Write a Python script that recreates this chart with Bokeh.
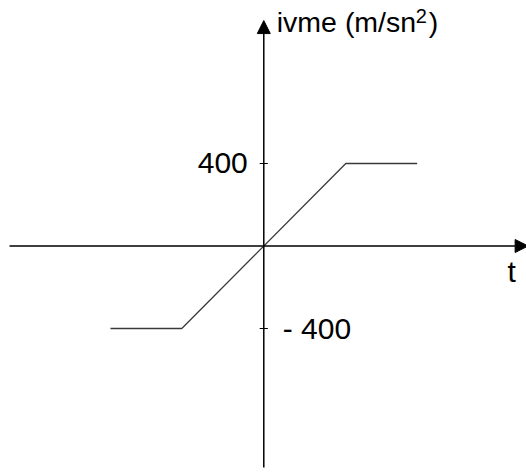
from bokeh.plotting import figure
from bokeh.models import Range1d, Arrow, NormalHead
from bokeh.core.properties import value
from bokeh.embed import file_html
from bokeh.resources import INLINE

# data (t in units where the ramp ends at t = 1; acceleration in m/sn^2)
t_values = [-1.87, -1.0, 1.0, 1.87]
accel_values = [-400, -400, 400, 400]
tick_values = [400, -400]
tick_labels = ["400", "- 400"]
y_title_main = "ivme (m/sn"
y_title_sup = "2"
y_title_end = ")"
x_title = "t"

X_MIN, X_MAX = -3.211, 3.204
Y_MIN, Y_MAX = -1103.0, 1190.3
X_AXIS_START = -3.101
Y_AXIS_START = -1074.0
Y_AXIS_TIP = 1093.0

p = figure(width=526, height=473, output_backend="svg", toolbar_location=None,
           x_range=Range1d(X_MIN, X_MAX), y_range=Range1d(Y_MIN, Y_MAX),
           min_border=0, outline_line_color=None)
p.axis.visible = False
p.grid.visible = False
p.background_fill_color = "white"
p.border_fill_color = "white"

FONT = value("Liberation Sans")

# horizontal axis with arrow
p.add_layout(Arrow(x_start=X_AXIS_START, y_start=0, x_end=X_MAX + 0.02, y_end=0,
                   line_color="black", line_width=1.5,
                   end=NormalHead(size=13, fill_color="black", line_color="black", line_width=1)))
# vertical axis with arrow
p.add_layout(Arrow(x_start=0, y_start=Y_AXIS_START, x_end=0, y_end=Y_AXIS_TIP,
                   line_color="black", line_width=1.5,
                   end=NormalHead(size=13, fill_color="black", line_color="black", line_width=1)))

# tick marks
p.segment(x0=[-0.05] * len(tick_values), x1=[0.05] * len(tick_values),
          y0=tick_values, y1=tick_values, line_color="black", line_width=1)

# data line
p.line(t_values, accel_values, line_color="#3a3a3a", line_width=1.3)

# tick labels
p.text(x=[0], y=[tick_values[0]], text=[tick_labels[0]], text_font=FONT,
       text_font_size="30px", text_align="right", text_baseline="middle",
       x_offset=-16, y_offset=-1, text_color="black")
p.text(x=[0], y=[tick_values[1]], text=[tick_labels[1]], text_font=FONT,
       text_font_size="30px", text_align="left", text_baseline="middle",
       x_offset=19, y_offset=0, text_color="black")

# axis titles (vertical axis: main text, superscript, closing parenthesis)
p.text(x=[0], y=[Y_AXIS_TIP], text=[y_title_main], text_font=FONT, text_font_size="28.5px",
       text_align="left", text_baseline="alphabetic", x_offset=13, y_offset=1,
       text_color="black")
p.text(x=[0], y=[Y_AXIS_TIP], text=[y_title_sup], text_font=FONT, text_font_size="20px",
       text_align="left", text_baseline="alphabetic", x_offset=152, y_offset=-5,
       text_color="black")
p.text(x=[0], y=[Y_AXIS_TIP], text=[y_title_end], text_font=FONT, text_font_size="28.5px",
       text_align="left", text_baseline="alphabetic", x_offset=165, y_offset=1,
       text_color="black")
p.text(x=[0], y=[0], text=[x_title], text_font=FONT, text_font_size="30px",
       text_align="center", text_baseline="alphabetic", x_offset=248, y_offset=25,
       text_color="black")

open("out.html", "w").write(file_html(p, INLINE))
